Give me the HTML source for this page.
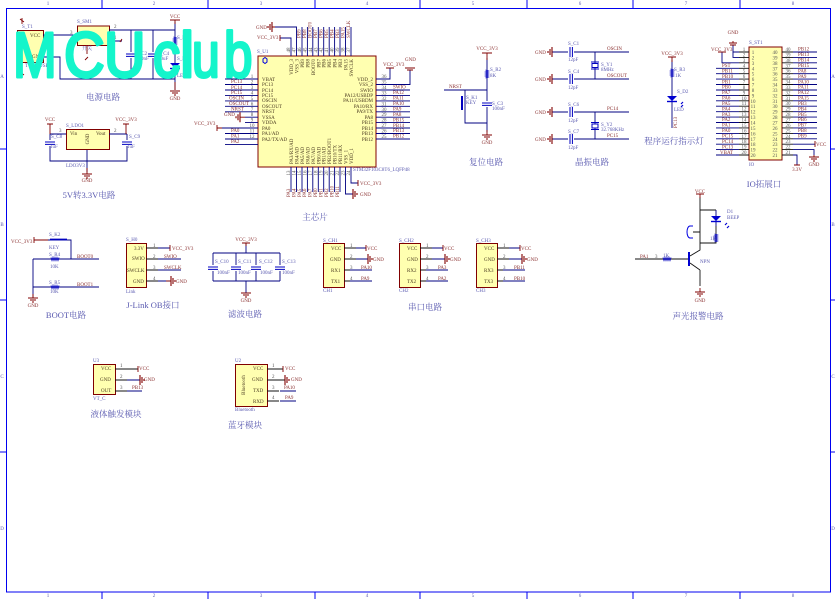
<!DOCTYPE html>
<html><head><meta charset="utf-8">
<style>
html,body{margin:0;padding:0;background:#fff}
svg{display:block}
text{font-family:"Liberation Serif","Noto Serif CJK SC",serif;font-size:5px}
.n{fill:#8a3030}
.l{fill:#5a5ab0}
.p{fill:#4a3a20}
.k{fill:#555}
.c{fill:#5a5ab0;font-size:8.5px;text-anchor:middle}
.m{text-anchor:middle}
.e{text-anchor:end}
.b{fill:none;stroke:#000080;stroke-width:.9}
.r{fill:none;stroke:#800000;stroke-width:.9}
.bk{fill:none;stroke:#111;stroke-width:.9}
.box{fill:#ffffb0;stroke:#800000;stroke-width:1}
.f{fill:none;stroke:#0000f0;stroke-width:1}
text.w{font-family:"Liberation Sans",sans-serif;font-size:64px;fill:#14f5cb;stroke:#14f5cb;stroke-width:3;stroke-linejoin:round;stroke-linecap:round}
</style></head><body>
<svg width="835" height="599" viewBox="0 0 835 599" xmlns="http://www.w3.org/2000/svg">
<defs>
<g id="gv" class="r"><path d="M-5 0H5M-3 2H3M-1 4H1" stroke-width="1.1"/></g>
<g id="gl" class="r"><path d="M0 -5V5M-2 -3V3M-4 -1V1" stroke-width="1.1"/></g>
<g id="gr" class="r"><path d="M0 -5V5M2 -3V3M4 -1V1" stroke-width="1.1"/></g>
<path id="res" d="M-1.500 -4L1.500 -3L-1.500 -2L1.500 -1L-1.500 0L1.500 1L-1.500 2L1.500 3L-1.500 4" fill="none" stroke="#0000c0" stroke-width=".9"/>
<path id="resh" d="M-4 -1.500L-3 1.500L-2 -1.500L-1 1.500L0 -1.500L1 1.500L2 -1.500L3 1.500L4 -1.500" fill="none" stroke="#0000c0" stroke-width=".9"/>
<g id="cv"><rect x="-4" y="-3" width="8" height="6" fill="#fff"/><path d="M-5 -1H5M-5 1.400H5" fill="none" stroke="#0000c0" stroke-width="1"/></g>
<g id="ch"><rect x="-3" y="-4" width="6" height="8" fill="#fff"/><path d="M-1 -5V5M1.400 -5V5" fill="none" stroke="#0000c0" stroke-width="1"/></g>
<g id="led"><path d="M-5 -3H5L0 2Z" fill="#0000d0"/><path d="M-5 2.500H5" stroke="#0000d0" stroke-width="1.400"/></g>
</defs>

<!-- frame -->
<g class="f">
<rect x="6.500" y="8.500" width="824" height="583.500"/>
<path d="M102 0V8M208 0V8M315 0V8M420 0V8M527 0V8M633 0V8M740 0V8M102 592V599M208 592V599M315 592V599M420 592V599M527 592V599M633 592V599M740 592V599"/>
<path d="M0 149H6M0 300H6M0 452H6M831 149H835M831 300H835M831 452H835"/>
</g>
<g class="l" text-anchor="middle">
<text x="48" y="5">1</text><text x="154" y="5">2</text><text x="261" y="5">3</text><text x="367" y="5">4</text><text x="473" y="5">5</text><text x="580" y="5">6</text><text x="686" y="5">7</text><text x="793" y="5">8</text>
<text x="48" y="597">1</text><text x="154" y="597">2</text><text x="261" y="597">3</text><text x="367" y="597">4</text><text x="473" y="597">5</text><text x="580" y="597">6</text><text x="686" y="597">7</text><text x="793" y="597">8</text>
<text x="2" y="78">A</text><text x="2" y="226">B</text><text x="2" y="378">C</text><text x="2" y="530">D</text>
<text x="833" y="78">A</text><text x="833" y="226">B</text><text x="833" y="378">C</text><text x="833" y="530">D</text>
</g>

<!-- power -->
<rect class="box" x="17.500" y="30.500" width="26" height="32"/>
<rect class="box" x="77.500" y="26" width="32" height="19.500"/>
<path class="b" d="M43 35H77M109 30H175M109 41H122M43 57H60V79H175M131 30V79M153 30V79M175 22V90"/>
<path class="r" d="M22 18L22 24M20 19l4 3M122 39l-2 3M87 46V54M88 57l-3 3M22 62V74M20 72l4 3"/>
<path class="r" d="M170 20H180M175 20V24M175 82V90"/><use href="#gv" x="175" y="91"/>
<use href="#cv" x="131" y="55"/><use href="#cv" x="153" y="55"/><use href="#res" x="175" y="41"/><use href="#led" x="175" y="66"/>
<path d="M185 70l2 2" stroke="#0000d0" stroke-width="1.500"/>
<text class="l" x="22" y="28">S_T1</text><text class="p" x="30" y="37">VCC</text><text class="p" x="32" y="58">GND</text><text class="l" x="25" y="67">TYPE-USBP</text>
<text class="l" x="77" y="23">S_SM1</text><text class="k" x="70" y="34">3</text><text class="k" x="114" y="28">2</text><text class="k" x="114" y="39">1</text><text class="l" x="82" y="50">开关</text>
<text class="l" x="136" y="55">S_C2</text><text class="l" x="136" y="60">100nF</text><text class="l" x="158" y="55">S_C4</text><text class="l" x="158" y="60">10uF</text>
<text class="n m" x="175" y="18">VCC</text><text class="l" x="177" y="39">S_R1</text><text class="l" x="177" y="60">S_D1</text><text class="l" x="177" y="77">LED</text><text class="n m" x="175" y="100">GND</text>
<text class="c" x="103" y="100">电源电路</text>

<!-- LDO -->
<rect class="box" x="66.500" y="129.500" width="43" height="20"/>
<path class="b" d="M50 134H66M109 134H127M50 134V161H127V134M87 150V172"/>
<path class="r" d="M47 124H53M50 124V134M123 124H129M126 124V134M87 168V174"/><use href="#gv" x="87" y="174"/>
<use href="#cv" x="50" y="143"/><use href="#cv" x="127" y="143"/>
<text class="l" x="66" y="127">S_LDO1</text><text class="p" x="70" y="135">Vin</text><text class="p" x="96" y="135">Vout</text><text class="p m" transform="translate(89 139) rotate(-90)">GND</text>
<text class="n m" x="50" y="121">VCC</text><text class="n m" x="126" y="121">VCC_3V3</text><text class="k" x="59" y="132">3</text><text class="k" x="114" y="132">2</text><text class="l" x="51" y="138">S_C8</text><text class="l" x="50" y="148">1uF</text><text class="l" x="129" y="138">S_C9</text><text class="l" x="127" y="148">1uF</text>
<text class="l" x="66" y="167">LDO3V3</text><text class="n m" x="87" y="182">GND</text>
<text class="c" x="89" y="198">5V转3.3V电路</text>

<!-- U1 -->
<rect class="box" x="258" y="56" width="118" height="111"/>
<path d="M263 59l2 -1.500l2 1.500v3l-2 1.500l-2 -1.500Z" fill="none" stroke="#0000e0" stroke-width="1"/>
<path class="b" d="M225 79H258M225 84.500H258M225 90H258M225 95.400H258M225 100.900H258M225 106.300H258M225 111.800H258M245 117.200H258M222 128H258M225 133.500H258M225 139H258M225 144.400H258
M376 79H390V68M376 84.500H410V70M376 90H410M376 95.400H410M376 100.900H410M376 106.300H410M376 111.800H410M376 117.200H410M376 122.600H410M376 128H410M376 133.500H410M376 139H410"/>
<path class="b" d="M245 122.600H258
M291 56V38H280M296.500 56V27H275M302 56V27M307.400 56V27M312.800 56V27M318.300 56V27M323.700 56V27M329.200 56V27M334.600 56V27M340 56V27M345.500 56V27M351 56V27
M291 167V192M296.500 167V192M302 167V192M307.400 167V192M312.800 167V192M318.300 167V192M323.700 167V192M329.200 167V192M334.600 167V192M340 167V192M345.500 167V194H353M351 167V183H358"/>
<use href="#gl" x="272" y="27"/><path class="r" d="M272 27H275M280 35V41"/><use href="#gl" x="240" y="117.200"/><path class="r" d="M240 117.200H245M217 125V131M217 128H222"/><use href="#gr" x="353" y="194"/><path class="r" d="M358 180V186M386 68H394M405 68H415M407 70H413"/>
<g class="k" text-anchor="middle">
<text x="252" y="78">1</text><text x="252" y="83.500">2</text><text x="252" y="89">3</text><text x="252" y="94.400">4</text><text x="252" y="99.900">5</text><text x="252" y="105.300">6</text><text x="252" y="110.800">7</text><text x="252" y="116.200">8</text><text x="252" y="121.600">9</text><text x="252" y="127">10</text><text x="252" y="132.500">11</text><text x="252" y="138">12</text>
<text x="384" y="78">36</text><text x="384" y="83.500">35</text><text x="384" y="89">34</text><text x="384" y="94.400">33</text><text x="384" y="99.900">32</text><text x="384" y="105.300">31</text><text x="384" y="110.800">30</text><text x="384" y="116.200">29</text><text x="384" y="121.600">28</text><text x="384" y="127">27</text><text x="384" y="132.500">26</text><text x="384" y="138">25</text>
<text transform="translate(290 50) rotate(-90)">48</text><text transform="translate(295.500 50) rotate(-90)">47</text><text transform="translate(301 50) rotate(-90)">46</text><text transform="translate(306.400 50) rotate(-90)">45</text><text transform="translate(311.800 50) rotate(-90)">44</text><text transform="translate(317.300 50) rotate(-90)">43</text><text transform="translate(322.700 50) rotate(-90)">42</text><text transform="translate(328.200 50) rotate(-90)">41</text><text transform="translate(333.600 50) rotate(-90)">40</text><text transform="translate(339 50) rotate(-90)">39</text><text transform="translate(344.500 50) rotate(-90)">38</text><text transform="translate(350 50) rotate(-90)">37</text>
<text transform="translate(290 173) rotate(-90)">13</text><text transform="translate(295.500 173) rotate(-90)">14</text><text transform="translate(301 173) rotate(-90)">15</text><text transform="translate(306.400 173) rotate(-90)">16</text><text transform="translate(311.800 173) rotate(-90)">17</text><text transform="translate(317.300 173) rotate(-90)">18</text><text transform="translate(322.700 173) rotate(-90)">19</text><text transform="translate(328.200 173) rotate(-90)">20</text><text transform="translate(333.600 173) rotate(-90)">21</text><text transform="translate(339 173) rotate(-90)">22</text><text transform="translate(344.500 173) rotate(-90)">23</text><text transform="translate(350 173) rotate(-90)">24</text>
</g>
<g class="p">
<text x="262" y="81">VBAT</text><text x="262" y="86">PC13</text><text x="262" y="92">PC14</text><text x="262" y="97">PC15</text><text x="262" y="102">OSCIN</text><text x="262" y="108">OSCOUT</text><text x="262" y="113">NRST</text><text x="262" y="119">VSSA</text><text x="262" y="124">VDDA</text><text x="262" y="130">PA0</text><text x="262" y="135">PA1/AD</text><text x="262" y="141">PA2/TX/AD</text>
</g>
<g class="p" text-anchor="end">
<text x="373" y="81">VDD_2</text><text x="373" y="86">VSS_2</text><text x="373" y="92">SWIO</text><text x="373" y="97">PA12/USBDP</text><text x="373" y="102">PA11/USBDM</text><text x="373" y="108">PA10/RX</text><text x="373" y="113">PA9/TX</text><text x="373" y="119">PA8</text><text x="373" y="124">PB15</text><text x="373" y="130">PB14</text><text x="373" y="135">PB13</text><text x="373" y="141">PB12</text>
</g>
<g class="p" text-anchor="end">
<text transform="translate(293 59) rotate(-90)">VDD_3</text><text transform="translate(298.500 59) rotate(-90)">VSS_3</text><text transform="translate(304 59) rotate(-90)">PB9</text><text transform="translate(309.400 59) rotate(-90)">PB8</text><text transform="translate(314.800 59) rotate(-90)">BOOT0</text><text transform="translate(320.300 59) rotate(-90)">PB7</text><text transform="translate(325.700 59) rotate(-90)">PB6</text><text transform="translate(331.200 59) rotate(-90)">PB5</text><text transform="translate(336.600 59) rotate(-90)">PB4</text><text transform="translate(342 59) rotate(-90)">PB3</text><text transform="translate(347.500 59) rotate(-90)">PA15</text><text transform="translate(353 59) rotate(-90)">SWCLK</text>
</g>
<g class="p">
<text transform="translate(293 164) rotate(-90)">PA3/RX/AD</text><text transform="translate(298.500 164) rotate(-90)">PA4/AD</text><text transform="translate(304 164) rotate(-90)">PA5/AD</text><text transform="translate(309.400 164) rotate(-90)">PA6/AD</text><text transform="translate(314.800 164) rotate(-90)">PA7/AD</text><text transform="translate(320.300 164) rotate(-90)">PB0/AD</text><text transform="translate(325.700 164) rotate(-90)">PB1/AD</text><text transform="translate(331.200 164) rotate(-90)">PB2/BOOT1</text><text transform="translate(336.600 164) rotate(-90)">PB10/TX</text><text transform="translate(342 164) rotate(-90)">PB11/RX</text><text transform="translate(347.500 164) rotate(-90)">VSS_1</text><text transform="translate(353 164) rotate(-90)">VDD_1</text>
</g>
<g class="n">
<text x="231" y="83">PC13</text><text x="231" y="89">PC14</text><text x="231" y="94">PC15</text><text x="229" y="99.500">OSCIN</text><text x="229" y="105">OSCOUT</text><text x="231" y="110.500">NRST</text><text x="224" y="116">GND</text><text x="194" y="125">VCC_3V3</text><text x="231" y="132">PA0</text><text x="231" y="137.500">PA1</text><text x="231" y="143">PA2</text>
<text x="393" y="88.500">SWIO</text><text x="393" y="94">PA12</text><text x="393" y="99.500">PA11</text><text x="393" y="105">PA10</text><text x="393" y="110.500">PA9</text><text x="393" y="116">PA8</text><text x="393" y="121.500">PB15</text><text x="393" y="127">PB14</text><text x="393" y="132">PB13</text><text x="393" y="137.500">PB12</text>
<text x="383" y="66">VCC_3V3</text><text x="405" y="61">GND</text><text x="256" y="29">GND</text><text x="257" y="39">VCC_3V3</text>
<text x="360" y="185">VCC_3V3</text><text x="360" y="196">GND</text>
<text transform="translate(300.500 38) rotate(-90)">PB9</text><text transform="translate(306 38) rotate(-90)">PB8</text><text transform="translate(311.500 38) rotate(-90)">BOOT0</text><text transform="translate(317 38) rotate(-90)">PB7</text><text transform="translate(322.500 38) rotate(-90)">PB6</text><text transform="translate(328 38) rotate(-90)">PB5</text><text transform="translate(333.500 38) rotate(-90)">PB4</text><text transform="translate(339 38) rotate(-90)">PB3</text><text transform="translate(344.500 38) rotate(-90)">PA15</text><text transform="translate(350 38) rotate(-90)">SWCLK</text>
<text transform="translate(290 197) rotate(-90)">PA3</text><text transform="translate(295.500 197) rotate(-90)">PA4</text><text transform="translate(301 197) rotate(-90)">PA5</text><text transform="translate(306 197) rotate(-90)">PA6</text><text transform="translate(311.500 197) rotate(-90)">PA7</text><text transform="translate(317 197) rotate(-90)">PB0</text><text transform="translate(322.500 197) rotate(-90)">PB1</text><text transform="translate(328 197) rotate(-90)">PB2</text><text transform="translate(333.500 197) rotate(-90)">PB10</text><text transform="translate(339 197) rotate(-90)">PB11</text>
</g>
<text class="l" x="257" y="53">S_U1</text>
<text class="l" x="353" y="171">STM32F103C8T6_LQFP48</text>
<text class="c" x="315" y="220">主芯片</text>

<!-- reset -->
<path class="b" d="M487 58V132M444 90H487M465 90V123H487"/>
<path class="r" d="M482 53H492M487 53V60M487 130V135"/><use href="#gv" x="487" y="135"/>
<path d="M462 96V110" stroke="#0000c0" stroke-width="2" fill="none"/>
<use href="#res" x="487" y="74"/><use href="#cv" x="487" y="104"/>
<text class="n m" x="487" y="50">VCC_3V3</text><text class="l" x="490" y="71">S_R2</text><text class="l" x="490" y="77">8K</text><text class="n" x="449" y="88">NRST</text><text class="l" x="466" y="99">S_K1</text><text class="l" x="466" y="104">KEY</text><text class="l" x="492" y="105">S_C3</text><text class="l" x="492" y="110">100nF</text><text class="n m" x="487" y="144">GND</text>
<text class="c" x="486" y="165">复位电路</text>

<!-- crystals -->
<path class="b" d="M552 52H629M552 79H629M552 112H629M552 139H629M595 52V79M595 112V139"/>
<use href="#gl" x="552" y="52"/><use href="#gl" x="552" y="79"/><use href="#gl" x="552" y="112"/><use href="#gl" x="552" y="139"/>
<use href="#ch" x="571" y="52"/><use href="#ch" x="571" y="79"/><use href="#ch" x="571" y="112"/><use href="#ch" x="571" y="139"/>
<g><rect x="592" y="63.500" width="6" height="4" fill="#fff" stroke="#0000c0"/><path d="M591 62H599M591 69H599" stroke="#0000c0"/><rect x="592" y="124" width="6" height="4" fill="#fff" stroke="#0000c0"/><path d="M591 122.500H599M591 129.500H599" stroke="#0000c0"/></g>
<g class="n"><text x="535" y="54">GND</text><text x="535" y="81">GND</text><text x="535" y="114">GND</text><text x="535" y="141">GND</text><text x="607" y="50">OSCIN</text><text x="607" y="77">OSCOUT</text><text x="607" y="110">PC14</text><text x="607" y="137">PC15</text></g>
<g class="l"><text x="568" y="45">S_C1</text><text x="568" y="73">S_C4</text><text x="568" y="106">S_C6</text><text x="568" y="133">S_C7</text><text x="568" y="61">12pF</text><text x="568" y="89">12pF</text><text x="568" y="122">12pF</text><text x="568" y="149">12pF</text><text x="601" y="66">S_Y1</text><text x="601" y="71">8MHz</text><text x="601" y="126">S_Y2</text><text x="601" y="131">32.768KHz</text></g>
<text class="c" x="592" y="165">晶振电路</text>

<!-- LED -->
<path class="b" d="M672 60V128"/><path class="r" d="M668 57H676M672 57V62"/>
<use href="#res" x="672" y="73"/><use href="#led" x="672" y="99"/><path d="M681 104l2 -2M681 107l2 -2" stroke="#0000d0" stroke-width="1.200"/>
<text class="n m" x="672" y="55">VCC_3V3</text><text class="l" x="674" y="71">S_R3</text><text class="l" x="675" y="77">1K</text><text class="l" x="677" y="93">S_D2</text><text class="l" x="674" y="111">LED</text><text class="n" transform="translate(677 128) rotate(-90)">PC13</text>
<text class="c" x="674" y="144">程序运行指示灯</text>

<!-- ST1 -->
<rect class="box" x="749" y="47" width="33" height="113"/>
<path class="bk" d="M739 52H749M739 57.400H749M739 62.800H749M739 68.300H749M739 73.700H749M739 79.100H749M739 84.500H749M739 90H749M739 95.400H749M739 100.800H749M739 106.200H749M739 111.700H749M739 117.100H749M739 122.500H749M739 127.900H749M739 133.400H749M739 138.800H749M739 144.200H749M739 149.600H749M739 155H749
M782 52H793M782 57.400H793M782 62.800H793M782 68.300H793M782 73.700H793M782 79.100H793M782 84.500H793M782 90H793M782 95.400H793M782 100.800H793M782 106.200H793M782 111.700H793M782 117.100H793M782 122.500H793M782 127.900H793M782 133.400H793M782 138.800H793M782 144.200H793M782 149.600H793M782 155H793"/>
<path class="b" d="M733 45V57.400H739M722 52V62.800H739M716 68.300H739M716 73.700H739M716 79.100H739M716 84.500H739M716 90H739M716 95.400H739M716 100.800H739M716 106.200H739M716 111.700H739M716 117.100H739M716 122.500H739M716 127.900H739M716 133.400H739M716 138.800H739M716 144.200H739M716 149.600H739M716 155H739
M733 52H739M793 52H817M793 57.400H817M793 62.800H817M793 68.300H817M793 73.700H817M793 79.100H817M793 84.500H817M793 90H817M793 95.400H817M793 100.800H817M793 106.200H817M793 111.700H817M793 117.100H817M793 122.500H817M793 127.900H817M793 133.400H817M793 138.800H817M793 144.200H815M793 149.600H814V155M793 155H797V165"/>
<path class="r" d="M729 43H737M730 45H736M733 41V43M815 141V147M814 155V157M794 165H800M718 52H726"/><use href="#gv" x="814" y="157"/>
<g class="k" text-anchor="middle">
<text x="744" y="51">1</text><text x="744" y="56.400">2</text><text x="744" y="61.800">3</text><text x="744" y="67.300">4</text><text x="744" y="72.700">5</text><text x="744" y="78">6</text><text x="744" y="83.500">7</text><text x="744" y="89">8</text><text x="744" y="94.400">9</text><text x="744" y="99.800">10</text><text x="744" y="105">11</text><text x="744" y="110.700">12</text><text x="744" y="116">13</text><text x="744" y="121.500">14</text><text x="744" y="127">15</text><text x="744" y="132.400">16</text><text x="744" y="137.800">17</text><text x="744" y="143">18</text><text x="744" y="148.600">19</text><text x="744" y="154">20</text>
<text x="753" y="54">1</text><text x="753" y="59.400">2</text><text x="753" y="64.800">3</text><text x="753" y="70.300">4</text><text x="753" y="75.700">5</text><text x="753" y="81">6</text><text x="753" y="86.500">7</text><text x="753" y="92">8</text><text x="753" y="97.400">9</text><text x="753" y="102.800">10</text><text x="753" y="108">11</text><text x="753" y="113.700">12</text><text x="753" y="119">13</text><text x="753" y="124.500">14</text><text x="753" y="130">15</text><text x="753" y="135.400">16</text><text x="753" y="140.800">17</text><text x="753" y="146">18</text><text x="753" y="151.600">19</text><text x="753" y="157">20</text>
<text x="775" y="54">40</text><text x="775" y="59.400">39</text><text x="775" y="64.800">38</text><text x="775" y="70.300">37</text><text x="775" y="75.700">36</text><text x="775" y="81">35</text><text x="775" y="86.500">34</text><text x="775" y="92">33</text><text x="775" y="97.400">32</text><text x="775" y="102.800">31</text><text x="775" y="108">30</text><text x="775" y="113.700">29</text><text x="775" y="119">28</text><text x="775" y="124.500">27</text><text x="775" y="130">26</text><text x="775" y="135.400">25</text><text x="775" y="140.800">24</text><text x="775" y="146">23</text><text x="775" y="151.600">22</text><text x="775" y="157">21</text>
<text x="788" y="51">40</text><text x="788" y="56.400">39</text><text x="788" y="61.800">38</text><text x="788" y="67.300">37</text><text x="788" y="72.700">36</text><text x="788" y="78">35</text><text x="788" y="83.500">34</text><text x="788" y="89">33</text><text x="788" y="94.400">32</text><text x="788" y="99.800">31</text><text x="788" y="105">30</text><text x="788" y="110.700">29</text><text x="788" y="116">28</text><text x="788" y="121.500">27</text><text x="788" y="127">26</text><text x="788" y="132.400">25</text><text x="788" y="137.800">24</text><text x="788" y="143">23</text><text x="788" y="148.600">22</text><text x="788" y="154">21</text>
</g>
<g class="n">
<text x="722" y="67">PST</text><text x="722" y="72.400">PB11</text><text x="722" y="77.800">PB10</text><text x="722" y="83.300">PB1</text><text x="722" y="88.700">PB0</text><text x="722" y="94">PA7</text><text x="722" y="99.500">PA6</text><text x="722" y="105">PA5</text><text x="722" y="110.400">PA4</text><text x="722" y="115.800">PA3</text><text x="722" y="121.200">PA2</text><text x="722" y="126.700">PA1</text><text x="722" y="132.100">PA0</text><text x="722" y="137.500">PC15</text><text x="722" y="143">PC14</text><text x="722" y="148.400">PC13</text><text x="720" y="153.800">VBAT</text>
<text x="798" y="50.700">PB12</text><text x="798" y="56">PB13</text><text x="798" y="61.500">PB14</text><text x="798" y="67">PB15</text><text x="798" y="72.400">PA8</text><text x="798" y="77.800">PA9</text><text x="798" y="83.300">PA10</text><text x="798" y="88.700">PA11</text><text x="798" y="94">PA12</text><text x="798" y="99.500">PA15</text><text x="798" y="105">PB3</text><text x="798" y="110.400">PB4</text><text x="798" y="115.800">PB5</text><text x="798" y="121.200">PB6</text><text x="798" y="126.700">PB7</text><text x="798" y="132.100">PB8</text><text x="798" y="137.500">PB9</text>
<text x="816" y="146">VCC</text><text text-anchor="middle" x="814" y="166">GND</text><text text-anchor="middle" x="797" y="171">3.3V</text><text text-anchor="middle" x="733" y="34">GND</text><text x="711" y="51">VCC_3V3</text>
</g>
<text class="l" x="749" y="44">S_ST1</text><text class="l" x="749" y="166">IO</text>
<text class="c" x="764" y="187">IO拓展口</text>

<!-- buzzer -->
<path class="bk" d="M700 197V250L690 256M700 210H716M716 226V243H700M700 232H693M700 270V286M690 263L700 270M635 259H688"/>
<path class="b" d="M716 210V226"/><path class="r" d="M696 194H704M700 194V198"/><use href="#gv" x="700" y="292"/><path class="r" d="M700 288V292"/>
<use href="#led" x="716" y="219"/><use href="#res" x="716" y="238"/><use href="#resh" x="667" y="259"/>
<path d="M693 226h-3a3 6 0 0 0 0 12h3" fill="none" stroke="#0000e0"/>
<path d="M689 252V266" stroke="#0000d0" stroke-width="2"/>
<path d="M725 225l2 -2M727 228l2 -2" stroke="#0000d0" stroke-width="1.200"/>
<text class="n" text-anchor="middle" x="700" y="193">VCC</text><text class="l" x="727" y="213">D1</text><text class="l" x="727" y="219">BEEP</text><text class="l" x="710" y="240">1K</text>
<text class="n" x="640" y="258">PA1</text><text class="k" x="655" y="258">3</text><text class="l" x="663" y="257">1K</text><text class="l" x="700" y="263">NPN</text><text class="n" text-anchor="middle" x="700" y="302">GND</text>
<text class="c" x="698" y="319">声光报警电路</text>

<!-- boot -->
<path class="b" d="M48 240H71V259M33 259H99M33 259V298M33 287H99"/>
<path d="M50 239.500H67" stroke="#0000c0" stroke-width="1.800"/>
<path class="r" d="M34 237V243M34 240H48M33 294V298"/><use href="#gv" x="33" y="298"/>
<use href="#resh" x="55" y="259"/><use href="#resh" x="55" y="287"/>
<text class="n" x="11" y="243">VCC_3V3</text><text class="l" x="49" y="236">S_K2</text><text class="l" x="49" y="249">KEY</text><text class="l" x="49" y="256">S_R4</text><text class="l" x="50" y="268">10K</text><text class="l" x="49" y="284">S_R5</text><text class="l" x="50" y="293">10K</text><text class="n" x="77" y="258">BOOT0</text><text class="n" x="77" y="286">BOOT1</text><text class="n" text-anchor="middle" x="33" y="307">GND</text>
<text class="c" x="66" y="318">BOOT电路</text>

<!-- jlink -->
<rect class="box" x="126.500" y="243.500" width="20" height="44"/>
<path class="bk" d="M146 248H158M146 259H158M146 270H158M146 281H158"/>
<path class="b" d="M158 248H170M158 259H181M158 270H181M158 281H170"/>
<path class="r" d="M170 245V251"/><use href="#gr" x="171" y="281"/><path class="r" d="M166 281H171"/>
<text class="l" x="126" y="241">S_H0</text><text class="p" x="134" y="250">3.3V</text><text class="p" x="132" y="260">SWIO</text><text class="p" x="127" y="272">SWCLK</text><text class="p" x="133" y="283">GND</text>
<text class="k" x="153" y="247">1</text><text class="k" x="153" y="258">2</text><text class="k" x="153" y="269">3</text><text class="k" x="153" y="280">4</text>
<text class="n" x="172" y="250">VCC_3V3</text><text class="n" x="164" y="258">SWIO</text><text class="n" x="164" y="269">SWCLK</text><text class="n" x="176" y="283">GND</text><text class="l" x="126" y="293">Link</text>
<text class="c" x="153" y="308">J-Link OB接口</text>

<!-- filter -->
<path class="b" d="M213 253H280M213 281H280M213 253V281M236 253V281M256 253V281M280 253V281"/>
<path class="b" d="M246 243V253M246 281V293"/><path class="r" d="M242 243H250M246 243V246"/><use href="#gv" x="246" y="293"/>
<use href="#cv" x="213" y="268"/><use href="#cv" x="236" y="268"/><use href="#cv" x="256" y="268"/><use href="#cv" x="280" y="268"/>
<text class="n" text-anchor="middle" x="246" y="241">VCC_3V3</text><text class="n" text-anchor="middle" x="246" y="302">GND</text>
<g class="l"><text x="215" y="263">S_C10</text><text x="238" y="263">S_C11</text><text x="259" y="263">S_C12</text><text x="282" y="263">S_C13</text><text x="217" y="274">100nF</text><text x="238" y="274">100nF</text><text x="260" y="274">100nF</text><text x="282" y="274">100nF</text></g>
<text class="c" x="245" y="317">滤波电路</text>

<!-- CH1 -->
<rect class="box" x="323.500" y="243.500" width="21" height="44"/>
<rect class="box" x="399.500" y="243.500" width="21" height="44"/>
<rect class="box" x="476.500" y="243.500" width="21" height="44"/>
<path class="bk" d="M344 248H356M344 259H356M344 270H350M344 281H350M420 248H432M420 259H432M420 270H426M420 281H426M497 248H509M497 259H509M497 270H503M497 281H503"/>
<path class="b" d="M356 248H366M356 259H368M350 270H372M350 281H372M432 248H443M432 259H445M426 270H448M426 281H448M509 248H520M509 259H522M503 270H525M503 281H525"/>
<path class="r" d="M366 245V251M443 245V251M520 245V251"/>
<use href="#gr" x="368" y="259"/><use href="#gr" x="445" y="259"/><use href="#gr" x="522" y="259"/>
<g class="p">
<text x="331" y="250">VCC</text><text x="330" y="261">GND</text><text x="331" y="272">RX1</text><text x="331" y="283">TX1</text>
<text x="407" y="250">VCC</text><text x="407" y="261">GND</text><text x="407" y="272">RX2</text><text x="407" y="283">TX2</text>
<text x="484" y="250">VCC</text><text x="484" y="261">GND</text><text x="484" y="272">RX3</text><text x="484" y="283">TX3</text></g>
<g class="l"><text x="323" y="242">S_CH1</text><text x="399" y="242">S_CH2</text><text x="476" y="242">S_CH3</text><text x="323" y="292">CH1</text><text x="399" y="292">CH2</text><text x="476" y="292">CH3</text></g>
<g class="k"><text x="350" y="247">1</text><text x="350" y="258">2</text><text x="350" y="269">3</text><text x="350" y="280">4</text><text x="426" y="247">1</text><text x="426" y="258">2</text><text x="426" y="269">3</text><text x="426" y="280">4</text><text x="503" y="247">1</text><text x="503" y="258">2</text><text x="503" y="269">3</text><text x="503" y="280">4</text></g>
<g class="n"><text x="367" y="250">VCC</text><text x="373" y="261">GND</text><text x="361" y="269">PA10</text><text x="361" y="280">PA9</text><text x="444" y="250">VCC</text><text x="450" y="261">GND</text><text x="438" y="269">PA3</text><text x="438" y="280">PA2</text><text x="521" y="250">VCC</text><text x="527" y="261">GND</text><text x="514" y="269">PB11</text><text x="514" y="280">PB10</text></g>
<text class="c" x="425" y="310">串口电路</text>

<!-- U3 -->
<rect class="box" x="93.500" y="364.500" width="22" height="30"/>
<path class="bk" d="M115 369H138M115 380H127M115 391H127"/>
<path class="b" d="M127 380H140M127 391H142"/>
<path class="r" d="M138 366V372"/><use href="#gr" x="140" y="380"/>
<text class="l" x="93" y="362">U3</text><text class="p" x="101" y="370">VCC</text><text class="p" x="100" y="381">GND</text><text class="p" x="101" y="392">OUT</text><text class="l" x="93" y="400">VT_C</text>
<text class="k" x="120" y="367">1</text><text class="k" x="120" y="378">2</text><text class="k" x="120" y="389">3</text><text class="n" x="139" y="370">VCC</text><text class="n" x="144" y="381">GND</text><text class="n" x="132" y="389">PB13</text>
<text class="c" x="116" y="417">液体触发模块</text>

<!-- U2 -->
<rect class="box" x="235.500" y="364.500" width="32" height="42"/>
<path class="bk" d="M267 369H283M267 380H285M267 391H279M267 401H279"/>
<path class="b" d="M280 391H296M280 401H296"/>
<path class="r" d="M283 366V372"/><use href="#gr" x="285" y="380"/>
<text class="l" x="235" y="362">U2</text><text class="p" x="253" y="370">VCC</text><text class="p" x="252" y="381">GND</text><text class="p" x="253" y="392">TXD</text><text class="p" x="253" y="403">RXD</text>
<text class="p" text-anchor="middle" transform="translate(245 385) rotate(-90)">Bluetooth</text><text class="l" x="235" y="411">Bluetooth</text>
<text class="k" x="272" y="367">1</text><text class="k" x="272" y="378">2</text><text class="k" x="272" y="389">3</text><text class="k" x="272" y="399">4</text><text class="n" x="285" y="370">VCC</text><text class="n" x="291" y="381">GND</text><text class="n" x="284" y="389">PA10</text><text class="n" x="285" y="399">PA9</text>
<text class="c" x="245" y="428">蓝牙模块</text>

<!-- watermark -->
<text class="w" transform="translate(13 77) scale(.82 1)">M</text>
<text class="w" transform="translate(64 77) scale(.88 1)">C</text>
<text class="w" transform="translate(104 77) scale(.9 1)">U</text>
<text class="w" transform="translate(153 77) scale(.85 1)">c</text>
<text class="w" transform="translate(180 77)">l</text>
<text class="w" transform="translate(192 77) scale(.78 1)">u</text>
<text class="w" transform="translate(224 77) scale(.8 1)">b</text>
</svg>
</body></html>
